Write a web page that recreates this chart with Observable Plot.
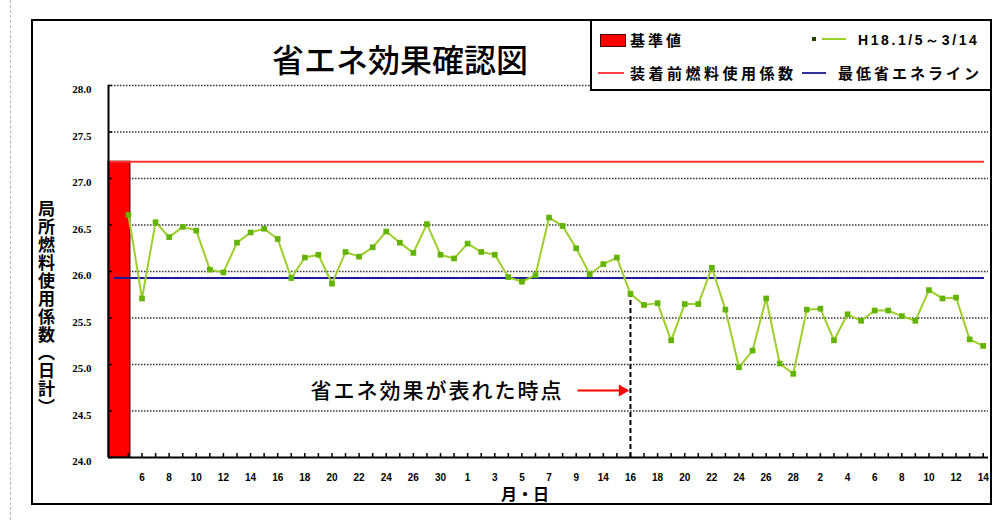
<!DOCTYPE html>
<html>
<head>
<meta charset="utf-8">
<script src="https://cdn.jsdelivr.net/npm/d3@7"></script>
<script src="https://cdn.jsdelivr.net/npm/@observablehq/plot@0.6"></script>
<style>
  html, body { margin: 0; padding: 0; background: #fff; }
  #wrap { position: relative; width: 1004px; height: 520px; overflow: hidden; font-family: "Noto Sans CJK JP", sans-serif; }
  #chart { position: absolute; left: 0; top: 0; }
  .pageline { position: absolute; left: 10px; top: 0; height: 520px; border-left: 1.5px dashed #b8b8b8; }
  .frame { position: absolute; left: 31px; top: 19px; width: 961px; height: 486px; box-sizing: border-box; border: 2px solid #000; pointer-events: none; }
  .title { position: absolute; left: 250px; width: 300px; top: 36px; text-align: center; font-size: 32px; font-weight: 500; color: #000; line-height: 44px; }
  .legend { position: absolute; left: 590px; top: 19px; width: 402px; height: 72px; box-sizing: border-box; border: 2px solid #000; background: #fff; }
  .legend .t { position: absolute; font-weight: 700; font-size: 15px; letter-spacing: 3px; line-height: 20px; color: #000; white-space: nowrap; }
  .legend .sw { position: absolute; }
  .ytitle { position: absolute; left: 36px; top: 200px; writing-mode: vertical-rl; text-orientation: upright; font-size: 17px; font-weight: 700; letter-spacing: 1px; line-height: 20px; color: #000; }
  .xtitle { position: absolute; left: 501px; top: 482px; font-size: 16px; font-weight: 700; color: #000; line-height: 22px; }
</style>
</head>
<body>
<div id="wrap">
  <div class="pageline"></div>
  <div id="chart"></div>
  <div class="frame"></div>
  <div class="title" id="title"></div>
  <div class="legend" id="legend"></div>
  <div class="ytitle" id="ytitle"></div>
  <div class="xtitle" id="xtitle"></div>
</div>
<script>
// ---- data ----
const titleText = "省エネ効果確認図";
const yTitle = "局所燃料使用係数（日計）";
const xTitle = "月・日";
const seriesName = "H18.1/5～3/14";
const baselineName = "基準値";
const preInstallName = "装着前燃料使用係数";
const minLineName = "最低省エネライン";

// x tick labels (every other data point)
const dayLabels = ["6","8","10","12","14","16","18","20","22","24","26","30","1","3","5","7",
                   "9","14","16","18","20","22","24","26","28","2","4","6","8","10","12","14"];

// daily fuel-use coefficient values
const values = [26.61, 25.71, 26.53, 26.37, 26.48, 26.44, 26.02, 25.99, 26.31, 26.42,
                26.46, 26.35, 25.93, 26.15, 26.18, 25.87, 26.21, 26.16, 26.26, 26.43,
                26.31, 26.20, 26.51, 26.18, 26.14, 26.30, 26.21, 26.18, 25.94, 25.89,
                25.96, 26.58, 26.49, 26.25, 25.97, 26.08, 26.15, 25.76, 25.64, 25.66,
                25.26, 25.65, 25.65, 26.04, 25.59, 24.97, 25.15, 25.71, 25.01, 24.90,
                25.59, 25.60, 25.26, 25.54, 25.47, 25.58, 25.58, 25.52, 25.47, 25.80,
                25.71, 25.72, 25.27, 25.20];

const baselineValue = 27.18;   // 基準値 = 装着前燃料使用係数
const minLineValue = 25.93;    // 最低省エネライン
const yTicks = [24.0, 24.5, 25.0, 25.5, 26.0, 26.5, 27.0, 27.5, 28.0];
const annotation = [{label: "省エネ効果が表れた時点", at: 37, level: 24.72}];

// ---- build ----
const data = values.map((v, i) => ({i, v}));
const xDomain = [-1.47, 63.39];
const idx = d3.range(values.length);
const labelIdx = idx.filter(i => i % 2 === 1);

const chart = Plot.plot({
  width: 1004,
  height: 520,
  marginLeft: 108,
  marginRight: 16,
  marginTop: 85,
  marginBottom: 63,
  style: {fontFamily: "'Liberation Sans', sans-serif", fontSize: "10px", fontWeight: "bold", background: "transparent", color: "#000"},
  x: {domain: xDomain, axis: null},
  y: {domain: [24, 28], axis: null},
  marks: [
    Plot.ruleY(yTicks.filter(t => t > 24), {stroke: "#333", strokeWidth: 1.6, strokeDasharray: "1.5,1.5"}),
    Plot.rectY([{v: baselineValue}], {x1: xDomain[0], x2: 0.15, y1: 24, y2: "v", fill: "#ff0000", stroke: "#400", strokeWidth: 1}),
    Plot.ruleY([baselineValue], {x1: xDomain[0] + 0.1, x2: 63.1, stroke: "#ff3333", strokeWidth: 2}),
    Plot.ruleY([minLineValue], {x1: xDomain[0] + 0.4, x2: 63.1, stroke: "#1a1a9a", strokeWidth: 2}),
    Plot.ruleX(annotation, {x: "at", y1: 24, y2: d => values[d.at], stroke: "#000", strokeWidth: 2, strokeDasharray: "5,3"}),
    Plot.line(data, {x: "i", y: "v", stroke: "#9ccf2a", strokeWidth: 2}),
    Plot.dot(data, {x: "i", y: "v", symbol: "square", r: 3.2, fill: "#62b400", stroke: "none"}),
    Plot.link(annotation, {x1: d => d.at - 3.9, x2: d => d.at - 0.8, y1: "level", y2: "level", stroke: "#ff0000", strokeWidth: 2}),
    Plot.dot(annotation, {x: d => d.at - 0.6, y: "level", symbol: "triangle", rotate: 90, r: 4.5, fill: "#ff0000", stroke: "none"}),
    Plot.text(annotation, {x: d => d.at - 3.9, y: "level", text: "label", textAnchor: "end", dx: -14, dy: 1,
      fontSize: 21, fontWeight: 500, fontFamily: "'Noto Sans CJK JP', sans-serif", fill: "#000", className: "annot"}),
    // axes
    Plot.axisY(yTicks, {tickSize: 0, tickPadding: 17, dy: 4, tickFormat: d => d.toFixed(1),
      fontFamily: "'Liberation Serif', serif", fontWeight: "bold", fontSize: 11}),
    Plot.axisY(yTicks, {tickSize: -4, tickFormat: () => "", strokeWidth: 1.5}),
    Plot.axisX(idx, {tickSize: -4, tickFormat: () => "", strokeWidth: 1.5}),
    Plot.axisX(labelIdx, {tickSize: 0, tickPadding: 16, tickFormat: i => dayLabels[(i - 1) / 2],
      fontWeight: "bold", fontSize: 10}),
    Plot.ruleY([24], {stroke: "#000", strokeWidth: 2}),
    Plot.ruleX([xDomain[0]], {stroke: "#000", strokeWidth: 2})
  ]
});
chart.querySelectorAll("g.annot text, .annot text").forEach(t => t.setAttribute("letter-spacing", "2"));
document.getElementById("chart").appendChild(chart);

document.getElementById("title").textContent = titleText;
document.getElementById("ytitle").textContent = yTitle;
document.getElementById("xtitle").textContent = xTitle;

const lg = document.getElementById("legend");
lg.innerHTML = `
  <div class="sw" style="left:8px;top:13px;width:24px;height:11px;background:#f00;border:1.5px solid #400;"></div>
  <div class="t" style="left:38px;top:9px;">${baselineName}</div>
  <div class="sw" style="left:220px;top:16px;width:4px;height:4px;background:#234000;"></div>
  <div class="sw" style="left:230px;top:17px;width:24px;height:2px;background:#9ccf2a;"></div>
  <div class="t" style="left:266px;top:9px;font-size:14px;letter-spacing:2.6px;font-family:'Liberation Sans',sans-serif;">${seriesName}</div>
  <div class="sw" style="left:6px;top:51px;width:26px;height:2px;background:#ff4040;"></div>
  <div class="t" style="left:38px;top:42px;letter-spacing:3.5px;">${preInstallName}</div>
  <div class="sw" style="left:210px;top:51px;width:24px;height:2px;background:#3030a0;"></div>
  <div class="t" style="left:246px;top:42px;">${minLineName}</div>
`;
</script>
</body>
</html>
